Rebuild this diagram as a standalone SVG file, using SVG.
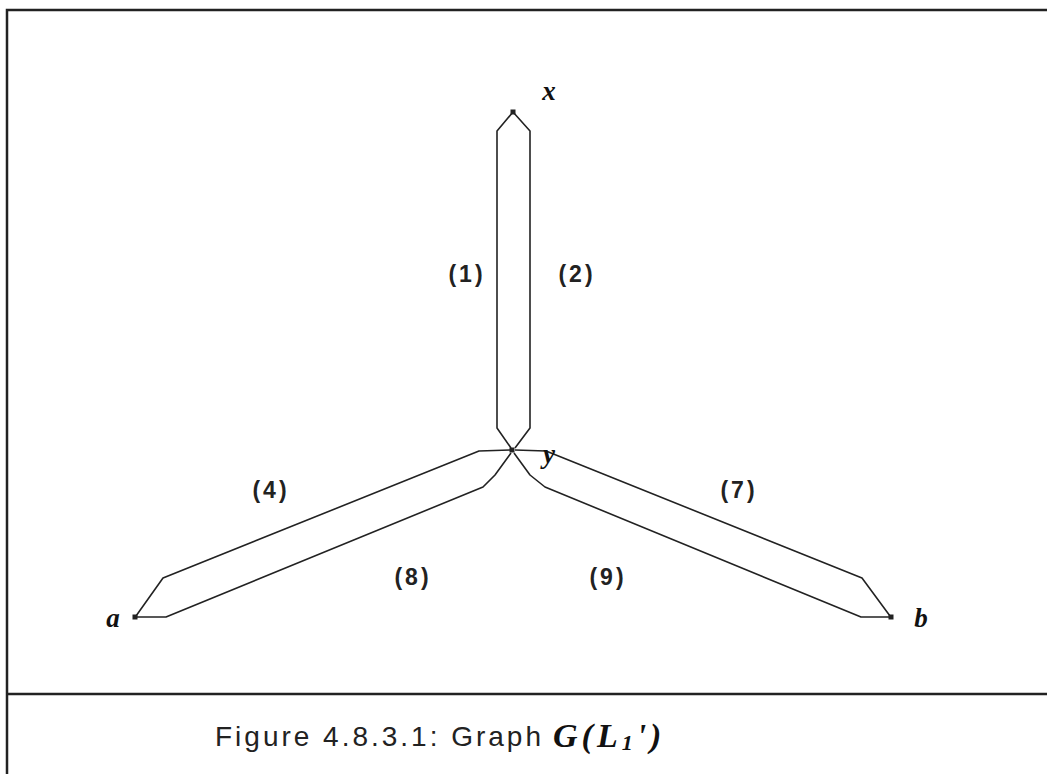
<svg xmlns="http://www.w3.org/2000/svg" width="1047" height="774" viewBox="0 0 1047 774">
<style>
.frame{fill:none;stroke:#222;stroke-width:2.5}
.edge{fill:none;stroke:#222;stroke-width:1.6;stroke-linejoin:round}
.dot{fill:#222}
.lbl{font-family:"Liberation Sans",Arial,sans-serif;font-size:23px;font-weight:bold;fill:#222;text-anchor:middle;letter-spacing:3px}
.nm{font-family:"Liberation Serif","Times New Roman",serif;font-style:italic;font-weight:bold;font-size:27px;fill:#111;text-anchor:middle}
.cap{font-family:"Liberation Sans",Arial,sans-serif;font-size:28px;fill:#222}
.capi{font-family:"Liberation Serif","Times New Roman",serif;font-style:italic;font-weight:bold;font-size:34px;fill:#111;letter-spacing:4px}
</style>
<rect width="1047" height="774" fill="#fff"/>
<g id="frame">
<polyline class="frame" points="7,774 7,10 1047,10"/>
<line class="frame" x1="7" y1="694" x2="1047" y2="694"/>
</g>
<g id="connectors">
<polyline id="e1" class="edge" points="513,112 497,131 497,428 511,448"/>
<polyline id="e2" class="edge" points="513,112 530,131 530,428 515,448"/>
<polyline id="e4" class="edge" points="510,450 479,451 163,578 136,616"/>
<polyline id="e8" class="edge" points="511,453 495,475 483,487 166,617 136,617"/>
<polyline id="e7" class="edge" points="515,450 546,451 862,578 890,616"/>
<polyline id="e9" class="edge" points="514,453 530,475 545,487 861,617 890,617"/>
</g>
<g id="node-x"><rect class="dot" x="510.5" y="109.5" width="5" height="5"/><text class="nm" x="549" y="100">x</text></g>
<g id="node-y"><rect class="dot" x="509.5" y="447.5" width="5" height="5"/><text class="nm" x="549" y="463">y</text></g>
<g id="node-a"><rect class="dot" x="132.5" y="614.5" width="5" height="5"/><text class="nm" x="113" y="627">a</text></g>
<g id="node-b"><rect class="dot" x="888.5" y="614.5" width="5" height="5"/><text class="nm" x="921" y="627">b</text></g>
<g id="labels">
<text class="lbl" x="467" y="282">(1)</text>
<text class="lbl" x="577" y="282">(2)</text>
<text class="lbl" x="271" y="498">(4)</text>
<text class="lbl" x="739" y="498">(7)</text>
<text class="lbl" x="413" y="585">(8)</text>
<text class="lbl" x="608" y="585">(9)</text>
</g>
<g id="caption">
<text class="cap" x="215" y="746" textLength="326" lengthAdjust="spacing">Figure 4.8.3.1: Graph</text>
<text class="capi" x="553" y="747">G(L<tspan font-size="22" dy="3">1</tspan><tspan dy="-3">')</tspan></text>
</g>
</svg>
